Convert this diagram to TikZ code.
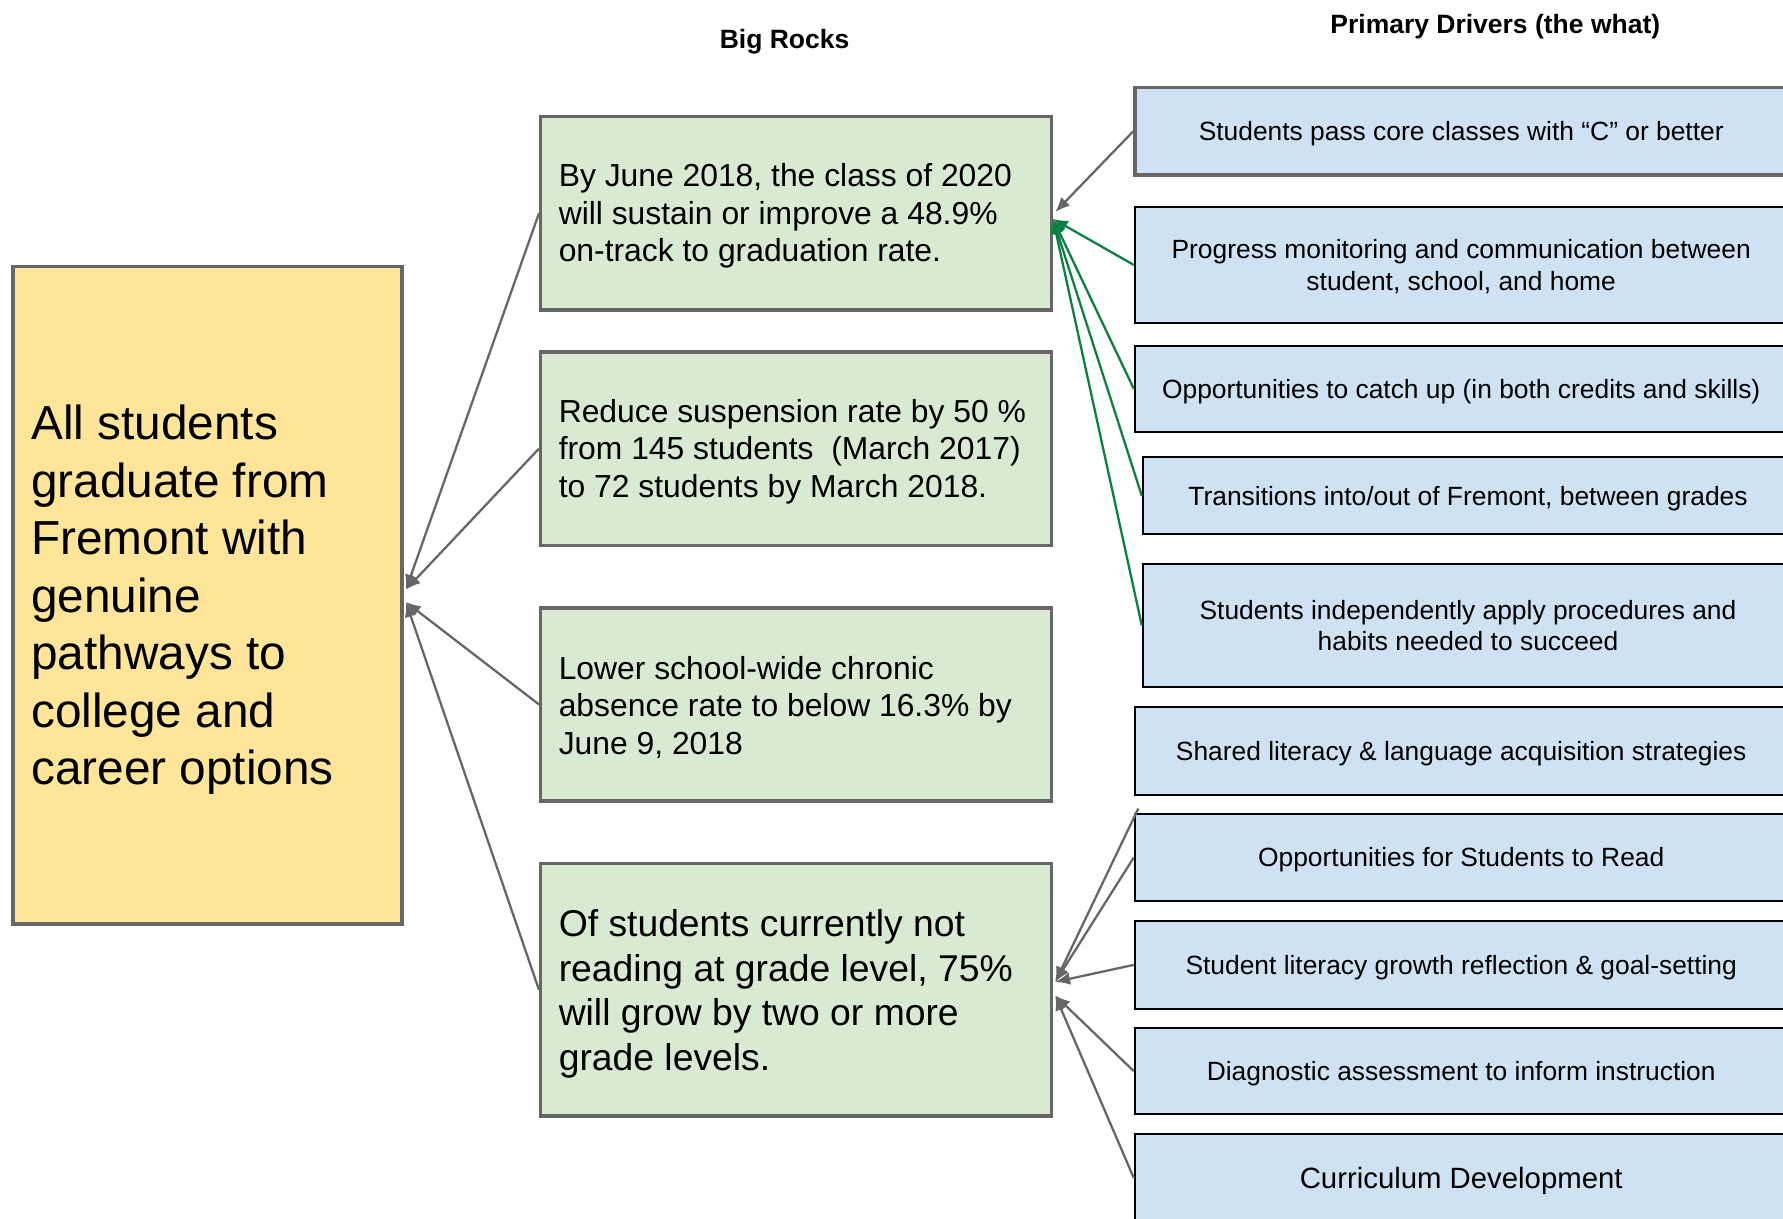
\documentclass[tikz,border=0pt]{standalone}
\usepackage{fontspec}
\setmainfont{Liberation Sans}
\usetikzlibrary{arrows.meta,calc}
\definecolor{yfill}{HTML}{FFE599}
\definecolor{gfill}{HTML}{D9EAD3}
\definecolor{bfill}{HTML}{CFE2F3}
\definecolor{edgegray}{HTML}{666666}
\definecolor{arrowgreen}{HTML}{0B8043}
\begin{document}
\begin{tikzpicture}[x=0.5pt,y=-0.5pt,
  graybox/.style={draw=edgegray, line width=1.5pt, rectangle, inner sep=0pt, anchor=north west},
  goalbox/.style={graybox, fill=yfill, minimum width=171pt, minimum height=289pt},
  rockbox/.style={graybox, fill=gfill, minimum width=224.5pt, minimum height=85pt},
  driverbox/.style={draw=black, line width=0.9pt, rectangle, fill=bfill, inner sep=0pt, align=center,
     text depth=0pt, font=\fontsize{11.6}{14}\selectfont},
  txt/.style={inner sep=0pt, align=left, anchor=west},
  title/.style={inner sep=0pt, font=\bfseries\fontsize{11.65}{14}\selectfont},
  conn/.style={draw=edgegray, line width=1pt, -{Latex[length=6.5pt,width=5.5pt]}},
  gconn/.style={draw=arrowgreen, line width=1pt, -{Latex[length=6.5pt,width=5.5pt]}}
]
\useasboundingbox (0,0) rectangle (1568,1072);
\clip (0,0) rectangle (1568,1072);
\fill[white] (0,0) rectangle (1568,1072);

% titles
\node[title] (t1) at (690,37) {Big Rocks};
\node[title] (t2) at (1315,23) {Primary Drivers (the what)};

% goal
\node[goalbox] (Y) at (10,233) {};
\node[txt, font=\fontsize{21}{25.3}\selectfont] (Yt) at (27,527.5) {All students\\graduate from\\Fremont with\\genuine\\pathways to\\college and\\career options};

% big rocks
\node[rockbox] (G1) at (474,101) {};
\node[txt, font=\fontsize{14}{16.5}\selectfont] (G1t) at (491,190) {By June 2018, the class of 2020\\will sustain or improve a 48.9\%\\on-track to graduation rate.};
\node[rockbox] (G2) at (474,308) {};
\node[txt, font=\fontsize{14}{16.5}\selectfont] (G2t) at (491,397) {Reduce suspension rate by 50 \%\\from 145 students \ (March 2017)\\to 72 students by March 2018.};
\node[rockbox] (G3) at (474,533) {};
\node[txt, font=\fontsize{14}{16.5}\selectfont] (G3t) at (491,622) {Lower school-wide chronic\\absence rate to below 16.3\% by\\June 9, 2018};
\node[rockbox, minimum height=111pt] (G4) at (474,758) {};
\node[txt, font=\fontsize{16.4}{19.5}\selectfont] (G4t) at (491,874) {Of students currently not\\reading at grade level, 75\%\\will grow by two or more\\grade levels.};

% drivers
\node[driverbox, draw=edgegray, line width=1.5pt, minimum width=287pt, minimum height=38.5pt] (B1) at (1285,115.5) {Students pass core classes with “C” or better};
\node[driverbox, minimum width=287pt, minimum height=51pt] (B2) at (1285,233) {Progress monitoring and communication between\\student, school, and home};
\node[driverbox, minimum width=287pt, minimum height=38pt] (B3) at (1285,342) {Opportunities to catch up (in both credits and skills)};
\node[driverbox, minimum width=286pt, minimum height=34pt] (B4) at (1291,436) {Transitions into/out of Fremont, between grades};
\node[driverbox, minimum width=286pt, minimum height=54pt] (B5) at (1291,550) {Students independently apply procedures and\\habits needed to succeed};
\node[driverbox, minimum width=287pt, minimum height=38.5pt] (B6) at (1285,660.5) {Shared literacy \& language acquisition strategies};
\node[driverbox, minimum width=287pt, minimum height=38pt] (B7) at (1285,754) {Opportunities for Students to Read};
\node[driverbox, minimum width=287pt, minimum height=38.5pt] (B8) at (1285,848.5) {Student literacy growth reflection \& goal-setting};
\node[driverbox, minimum width=287pt, minimum height=38pt] (B9) at (1285,942) {Diagnostic assessment to inform instruction};
\node[driverbox, minimum width=287pt, minimum height=39pt, font=\fontsize{12.9}{15}\selectfont] (B10) at (1285,1036) {Curriculum Development};

% arrow end points
\coordinate (yin1) at ($(Y.east)+(2,-5)$);
\coordinate (yin2) at ($(Y.east)+(2,6)$);
\coordinate (g1a) at ($(G1.east)+(2,-1)$);
\coordinate (g1b) at ($(G1.east)+(0,5)$);
\coordinate (g4a) at ($(G4.east)+(2,-7)$);
\coordinate (g4b) at ($(G4.east)+(2,5)$);
\coordinate (loose) at (1001,711);

% rocks -> goal
\draw[conn] (G1.west) -- (yin1);
\draw[conn] (G2.west) -- (yin1);
\draw[conn] (G3.west) -- (yin2);
\draw[conn] (G4.west) -- (yin2);

% drivers -> rock 1
\draw[conn] (B1.west) -- (g1a);
\draw[gconn] (B2.west) -- (g1b);
\draw[gconn] (B3.west) -- (g1b);
\draw[gconn] (B4.west) -- (g1b);
\draw[gconn] (B5.west) -- (g1b);

% drivers -> rock 4
\draw[conn] (loose) -- (g4a);
\draw[conn] (B7.west) -- (g4a);
\draw[conn] (B8.west) -- (g4a);
\draw[conn] (B9.west) -- (g4b);
\draw[conn] (B10.west) -- (g4b);
\end{tikzpicture}
\end{document}
